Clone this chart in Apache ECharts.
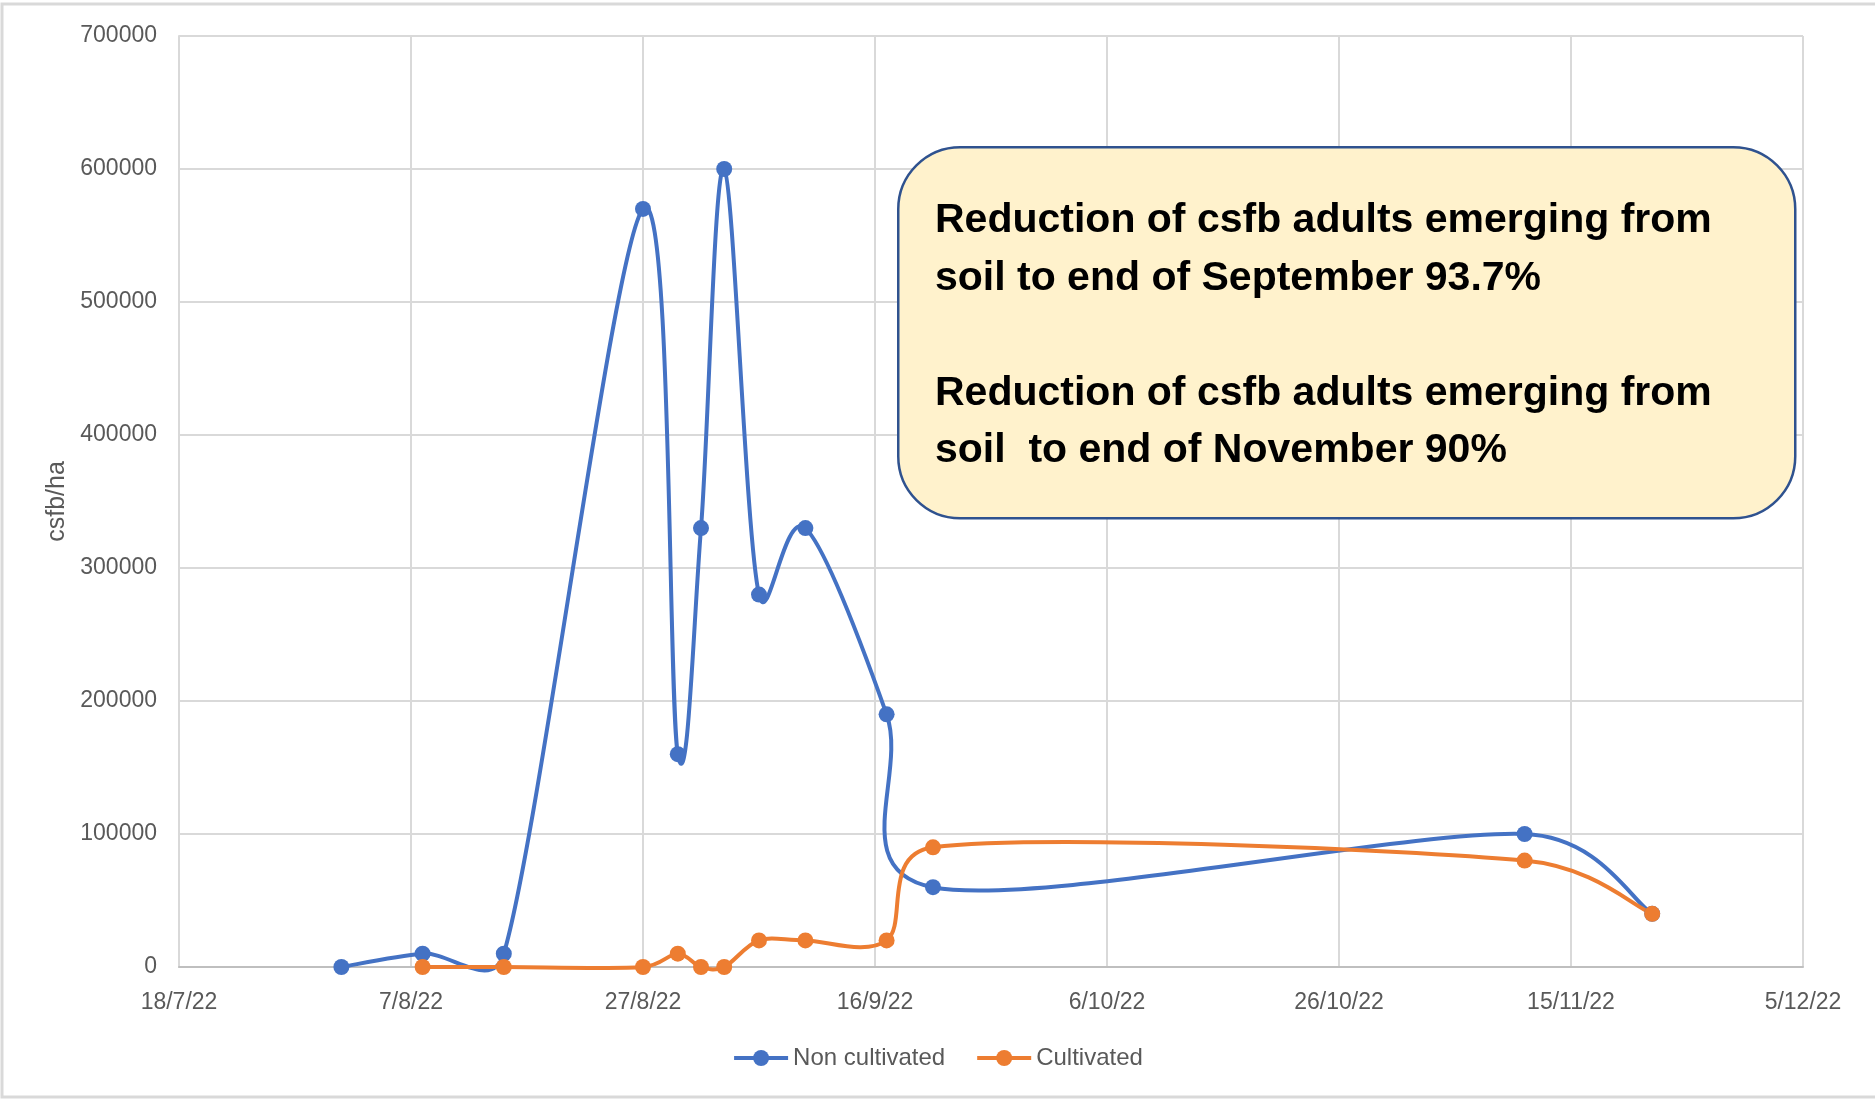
<!DOCTYPE html>
<html>
<head>
<meta charset="utf-8">
<script src="https://cdn.jsdelivr.net/npm/echarts@6/dist/echarts.min.js"></script>
<style>
html,body{margin:0;padding:0;background:#fff;}
#chart{width:1875px;height:1100px;}
</style>
</head>
<body>
<div id="chart"></div>
<script>
// ---- data ----
var axisStart = '18/7/22';
var axisEnd = '5/12/22';
var tickStepDays = 20;
var yTicks = [0, 100000, 200000, 300000, 400000, 500000, 600000, 700000];

var nonCultDates = ['1/8/22','8/8/22','15/8/22','27/8/22','30/8/22','1/9/22','3/9/22','6/9/22','10/9/22','17/9/22','21/9/22','11/11/22','22/11/22'];
var nonCultValues = [0, 10000, 10000, 570000, 160000, 330000, 600000, 280000, 330000, 190000, 60000, 100000, 40000];

var cultDates = ['8/8/22','15/8/22','27/8/22','30/8/22','1/9/22','3/9/22','6/9/22','10/9/22','17/9/22','21/9/22','11/11/22','22/11/22'];
var cultValues = [0, 0, 0, 10000, 0, 0, 20000, 20000, 20000, 90000, 80000, 40000];

var seriesNames = ['Non cultivated', 'Cultivated'];
var seriesColors = ['#4472C4', '#ED7D31'];
var yAxisName = 'csfb/ha';
var noteLines = [
  'Reduction of csfb adults emerging from',
  'soil to end of September 93.7%',
  '',
  'Reduction of csfb adults emerging from',
  'soil  to end of November 90%'
];

// ---- helpers ----
function parseDMY(s){
  var p = s.split('/');
  return Date.UTC(2000 + (+p[2]), (+p[1]) - 1, +p[0]);
}
var DAY = 86400000;
var t0 = parseDMY(axisStart);
function dayOffset(s){ return Math.round((parseDMY(s) - t0) / DAY); }
function fmtDay(v){
  var d = new Date(t0 + v * DAY);
  return d.getUTCDate() + '/' + (d.getUTCMonth() + 1) + '/' + String(d.getUTCFullYear()).slice(2);
}
function pairs(dates, vals){
  return dates.map(function(d, i){ return [dayOffset(d), vals[i]]; });
}

var nonCultData = pairs(nonCultDates, nonCultValues);
var cultData = pairs(cultDates, cultValues);

// Excel-like smoothed segment (Bezier, tangent = (next - prev)/6, limited to half the segment)
function smoothRenderer(dataArr, color){
  return function(params, api){
    var i = params.dataIndex;
    if (i >= dataArr.length - 1) return null;
    var pts = dataArr.map(function(d){ return api.coord(d); });
    var P0 = pts[i - 1] || pts[i], P1 = pts[i], P2 = pts[i + 1], P3 = pts[i + 2] || pts[i + 1];
    function len(a, b){ return Math.sqrt((b[0]-a[0])*(b[0]-a[0]) + (b[1]-a[1])*(b[1]-a[1])); }
    var seg = len(P1, P2);
    function cp(base, from, to, sign){
      var L = len(from, to);
      if (L === 0) return base.slice();
      var k = Math.min(L / 6, seg / 2) / L;
      return [base[0] + sign * (to[0]-from[0]) * k, base[1] + sign * (to[1]-from[1]) * k];
    }
    var c1 = cp(P1, P0, P2, 1);
    var c2 = cp(P2, P1, P3, -1);
    return {
      type: 'bezierCurve',
      shape: {x1: P1[0], y1: P1[1], x2: P2[0], y2: P2[1], cpx1: c1[0], cpy1: c1[1], cpx2: c2[0], cpy2: c2[1]},
      style: {stroke: color, lineWidth: 4, fill: null, lineCap: 'round'},
      silent: true
    };
  };
}

var FONT = '"Liberation Sans", Arial, sans-serif';
var chart = echarts.init(document.getElementById('chart'), null, {renderer: 'canvas'});

var textGraphics = noteLines.map(function(line, i){
  return {
    type: 'text',
    x: 935,
    y: 221 + i * 57.5,
    z: 101,
    style: {
      text: line,
      font: 'bold 41px ' + FONT,
      fill: '#000000',
      verticalAlign: 'middle',
      textVerticalAlign: 'middle'
    }
  };
});

chart.setOption({
  animation: false,
  backgroundColor: '#ffffff',
  grid: {left: 179, right: 72, top: 36, bottom: 133, containLabel: false},
  xAxis: {
    type: 'value',
    min: 0,
    max: dayOffset(axisEnd),
    interval: tickStepDays,
    axisLine: {show: true, lineStyle: {color: '#BFBFBF', width: 2}},
    axisTick: {show: false},
    axisLabel: {
      formatter: function(v){ return fmtDay(v); },
      color: '#595959',
      fontSize: 23,
      fontFamily: FONT,
      margin: 24
    },
    splitLine: {show: true, lineStyle: {color: '#D9D9D9', width: 2}}
  },
  yAxis: {
    type: 'value',
    min: yTicks[0],
    max: yTicks[yTicks.length - 1],
    interval: yTicks[1] - yTicks[0],
    name: yAxisName,
    nameLocation: 'middle',
    nameRotate: 90,
    nameGap: 108,
    nameTextStyle: {color: '#595959', fontSize: 25, fontFamily: FONT},
    axisLine: {show: true, lineStyle: {color: '#D9D9D9', width: 2}},
    axisTick: {show: false},
    axisLabel: {color: '#595959', fontSize: 23, fontFamily: FONT, margin: 22,
      formatter: function(v){ return String(v); }},
    splitLine: {show: true, lineStyle: {color: '#D9D9D9', width: 2}}
  },
  legend: {
    bottom: 25,
    left: 'center',
    itemWidth: 54,
    itemHeight: 20,
    itemGap: 30,
    textStyle: {color: '#595959', fontSize: 24, fontFamily: FONT},
    lineStyle: {opacity: 1, width: 4},
    data: seriesNames
  },
  series: [
    {
      name: 'nc-curve',
      type: 'custom',
      data: nonCultData,
      renderItem: smoothRenderer(nonCultData, seriesColors[0]),
      z: 2,
      silent: true
    },
    {
      name: 'c-curve',
      type: 'custom',
      data: cultData,
      renderItem: smoothRenderer(cultData, seriesColors[1]),
      z: 2,
      silent: true
    },
    {
      name: seriesNames[0],
      type: 'line',
      data: nonCultData,
      symbol: 'circle',
      symbolSize: 16,
      color: seriesColors[0],
      lineStyle: {width: 4, color: seriesColors[0], opacity: 0},
      itemStyle: {color: seriesColors[0]},
      z: 3
    },
    {
      name: seriesNames[1],
      type: 'line',
      data: cultData,
      symbol: 'circle',
      symbolSize: 16,
      color: seriesColors[1],
      lineStyle: {width: 4, color: seriesColors[1], opacity: 0},
      itemStyle: {color: seriesColors[1]},
      z: 4
    }
  ],
  graphic: [
    {
      type: 'polyline',
      z: 0,
      shape: {points: [[1875, 4], [2, 4], [2, 1097], [1875, 1097]]},
      style: {stroke: '#D9D9D9', lineWidth: 3, fill: null}
    },
    {
      type: 'rect',
      left: 897,
      top: 146,
      z: 100,
      shape: {width: 897, height: 371, r: 62},
      style: {fill: '#FFF2CC', stroke: '#2F528F', lineWidth: 2.5}
    }
  ].concat(textGraphics)
});
</script>
</body>
</html>
